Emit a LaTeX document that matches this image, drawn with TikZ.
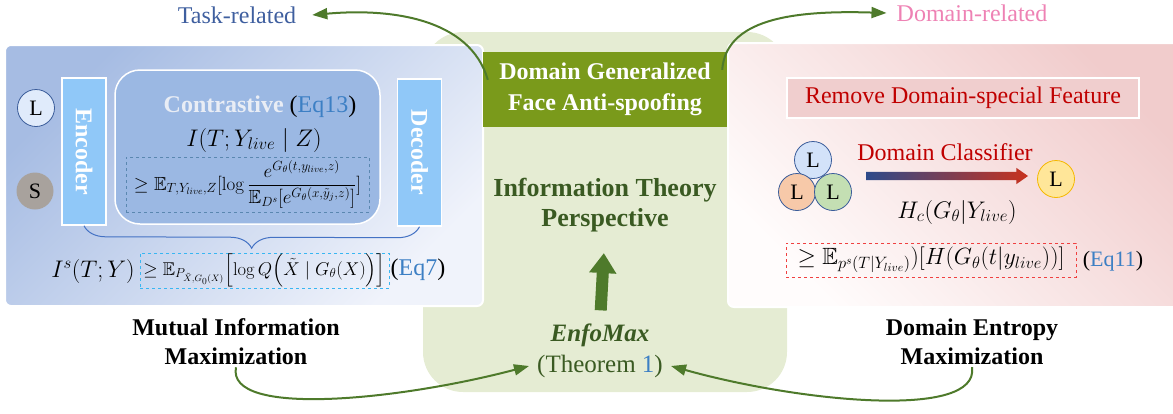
\RequirePackage{fix-cm}
\documentclass[tikz,border=0pt]{standalone}
\usepackage{amsmath,amssymb}
\usepackage[no-math]{fontspec}
\setmainfont{Liberation Serif}
\usetikzlibrary{arrows.meta,calc,decorations.pathreplacing,shapes.arrows,positioning}

\definecolor{bggreen}{HTML}{E5ECD3}
\definecolor{titlegreen}{HTML}{7A9A1B}
\definecolor{arrowgreen}{HTML}{4E7A2B}
\definecolor{textgreen}{HTML}{3A5A22}
\definecolor{miblue}{HTML}{A6BCE3}
\definecolor{miwhite}{HTML}{F0F3FB}
\definecolor{depink}{HTML}{F1CCCC}
\definecolor{dewhite}{HTML}{FFFCFC}
\definecolor{taskblue}{HTML}{3F5F9F}
\definecolor{dompink}{HTML}{EE82B4}
\definecolor{eqblue}{HTML}{3C7FC4}
\definecolor{darkred}{HTML}{C00000}
\definecolor{encblue}{HTML}{90C8F8}
\definecolor{conblue}{HTML}{9BB8E3}
\definecolor{contitle}{HTML}{E9EDF5}
\definecolor{dashblue}{HTML}{5A87B0}
\definecolor{dashcyan}{HTML}{38B6F2}
\definecolor{dashred}{HTML}{F04040}
\definecolor{bracecol}{HTML}{4472C4}
\definecolor{edgeblue}{HTML}{3A5C9A}
\definecolor{cblue}{HTML}{D3E2F9}
\definecolor{corange}{HTML}{F7C9A9}
\definecolor{cgreen}{HTML}{C4DFB3}
\definecolor{cyellow}{HTML}{FFE699}
\definecolor{yellowedge}{HTML}{F5B800}
\definecolor{sgray}{HTML}{A8A29D}
\definecolor{removepink}{HTML}{F0CECE}
\definecolor{gradblue}{HTML}{2D4A8A}
\definecolor{gradred}{HTML}{C8321E}

\tikzset{
	big/.style={font=\fontsize{24}{29}\selectfont, align=center, inner sep=0pt},
	captext/.style={font=\bfseries\fontsize{24}{29}\selectfont, align=center, inner sep=2pt},
	titlebox/.style={fill=titlegreen, text=white, font=\bfseries\fontsize{24}{31}\selectfont,
		align=center, minimum width=244pt, minimum height=75pt, inner sep=0pt},
	codebox/.style={fill=encblue, draw=white, line width=1.5pt, text=white,
		font=\bfseries\fontsize{24}{29}\selectfont, minimum width=44pt, minimum height=147pt, inner sep=0pt},
	conbox/.style={fill=conblue, draw=white, line width=1.5pt, rounded corners=25pt,
		minimum width=265pt, minimum height=154pt},
	lcirc/.style={circle, draw=edgeblue, line width=0.8pt, minimum size=37pt, inner sep=0pt,
		font=\fontsize{22}{26}\selectfont},
	curvearrow/.style={arrowgreen, line width=2pt, -{Triangle[length=15pt,width=11pt]}},
	bigarrow/.style={arrowgreen, line width=12pt, -{Triangle[length=20pt,width=26pt]}},
}

\begin{document}
\begin{tikzpicture}[x=1pt,y=-1pt]
	\useasboundingbox (0,0) rectangle (1173,413);
	% background shapes
	\fill[bggreen, rounded corners=40pt] (423,32) rectangle (787,392);
	\shade[rounded corners=6pt, top color=miblue, bottom color=miwhite, shading angle=45] (5,45) rectangle (483,306);
	\draw[white, line width=2pt, rounded corners=6pt] (5,45) rectangle (483,306);
	\shade[rounded corners=6pt, top color=depink, bottom color=dewhite, shading angle=-45] (728,43) rectangle (1185,307);
	\draw[white, line width=2pt, rounded corners=6pt] (728,43) rectangle (1185,307);

	% centre column
	\node[titlebox] (dgfas) at (605,89.5) {Domain Generalized\\Face Anti-spoofing};
	\node[big, text=textgreen, font=\bfseries\fontsize{26}{30}\selectfont] (itp) at (605,205) {Information Theory\\Perspective};
	\node[big, text=textgreen, font=\bfseries\itshape\fontsize{25}{30}\selectfont] (enfo) at (600,335) {EnfoMax};
	\node[big, text=textgreen, font=\fontsize{25}{30}\selectfont, inner xsep=8pt] (theorem) at (600,366) {(Theorem \textcolor{eqblue}{1})};
	\draw[bigarrow, shorten <=13pt, shorten >=21pt] (enfo.north) -- (itp.south);

	% mutual information maximization
	\node[lcirc, fill=cblue!70] (lnode) at (36,108) {L};
	\node[lcirc, draw=none, fill=sgray] (snode) at (35,191) {S};
	\node[codebox] (enc) at (84,151.5) {\rotatebox{-90}{Encoder}};
	\node[codebox] (dec) at (419.5,152.5) {\rotatebox{-90}{Decoder}};
	\node[conbox] (con) at (247.5,147) {};
	\node[big] (contitle) at (260,107) {\textbf{\textcolor{contitle}{Contrastive}} (\textcolor{eqblue}{Eq13})};
	\node[big] (imath) at (254,140) {$I(T;Y_{live}\mid Z)$};
	\node[draw=dashblue, dashed, line width=0.8pt, minimum width=243pt, minimum height=55pt, inner sep=0pt,
		font=\fontsize{19}{22}\selectfont] (nce) at (247.5,184.5)
		{$\displaystyle \geq \mathbb{E}_{T,Y_{live},Z}[\log \frac{e^{G_\theta(t,y_{live},z)}}{\mathbb{E}_{D^s}[e^{G_\theta(x,\tilde{y}_j,z)}]}]$};
	\draw[bracecol, line width=1pt, decorate, decoration={brace, amplitude=22pt, mirror}] (enc.south) -- (dec.south);
	\node[big] (ismath) at (93,271) {$I^s(T;Y)$};
	\node[draw=dashcyan, dashed, line width=0.8pt, minimum width=249pt, minimum height=35pt, inner sep=0pt,
		font=\fontsize{18.5}{22}\selectfont] (vae) at (264.5,270.5)
		{$\geq \mathbb{E}_{P_{\tilde{X},G_0(X)}}\Bigl[\log Q\Bigl(\tilde{X}\mid G_\theta(X)\Bigr)\Bigr]$};
	\node[big] (eq7) at (418,270) {(\textcolor{eqblue}{Eq7})};
	\node[captext] (mim) at (236,342) {Mutual Information\\Maximization};

	% domain entropy maximization
	\node[fill=removepink, draw=white, line width=1.5pt, text=darkred, minimum width=352pt, minimum height=40pt,
		font=\fontsize{24}{29}\selectfont] (remove) at (963,98) {Remove Domain-special Feature};
	\node[lcirc, fill=cblue] (dl1) at (813,160) {L};
	\node[lcirc, fill=corange] (dl2) at (797,192) {L};
	\node[lcirc, fill=cgreen] (dl3) at (833,192) {L};
	\node[lcirc, fill=cyellow, draw=yellowedge] (dl4) at (1056,179) {L};
	\node[big, text=darkred] (dcls) at (945,152) {Domain Classifier};
	\node[single arrow, minimum height=162pt, minimum width=0pt, inner xsep=0pt, inner ysep=4pt,
		single arrow head extend=4pt, single arrow tip angle=70,
		left color=gradblue, right color=gradred] (garrow) at (944,176) {};
	\node[big] (hc) at (957,212) {$H_c(G_\theta|Y_{live})$};
	\node[draw=dashred, dashed, line width=0.8pt, minimum width=290pt, minimum height=34pt, inner sep=0pt,
		font=\fontsize{23.5}{26}\selectfont] (ent) at (931,260)
		{$\geq \mathbb{E}_{p^s(T|Y_{live})})[H(G_\theta(t|y_{live}))]$};
	\node[big, font=\fontsize{22}{26}\selectfont] (eq11) at (1113,261) {(\textcolor{eqblue}{Eq11})};
	\node[captext] (dem) at (972,342) {Domain Entropy\\Maximization};

	% relation labels
	\node[big, text=taskblue, inner xsep=16pt] (task) at (237,15) {Task-related};
	\node[big, text=dompink, inner xsep=10pt] (domain) at (972,13) {Domain-related};

	% green connectors
	\draw[curvearrow] ($(dgfas.north west)+(5,28)$) .. controls (470,18) and (390,8) .. (task.east);
	\draw[curvearrow] ($(dgfas.north east)+(-5,18)$) .. controls (726,20) and (790,10) .. (domain.west);
	\draw[curvearrow] (mim.south) .. controls (226,418) and (400,400) .. (theorem.west);
	\draw[curvearrow] (dem.south) .. controls (980,420) and (800,402) .. (theorem.east);
\end{tikzpicture}
\end{document}
